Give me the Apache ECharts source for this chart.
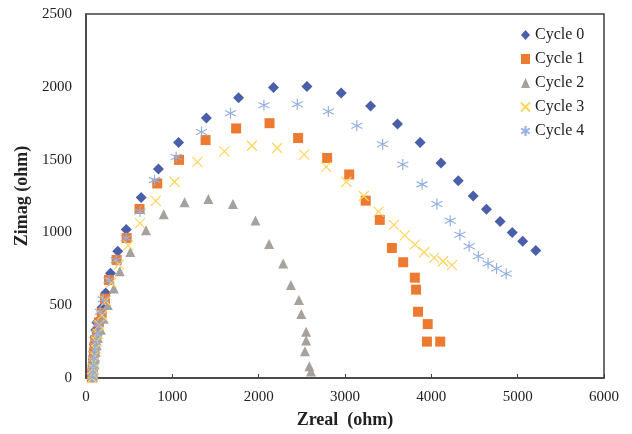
<!DOCTYPE html>
<html>
<head>
<meta charset="utf-8">
<script src="https://cdn.jsdelivr.net/npm/echarts@6/dist/echarts.min.js"></script>
<style>
  html, body { margin: 0; padding: 0; background: #fff; }
  #container { width: 632px; height: 434px; }
</style>
</head>
<body>
<div id="container"></div>
<script>
// Nyquist data: [Zreal, Zimag] in ohm
var cycle0 = [[72,10],[76,45],[80,85],[85,130],[90,180],[96,230],[103,280],[112,330],[126,382],[186,484],[228,584],[284,720],[368,870],[466,1020],[639,1239],[839,1436],[1072,1618],[1394,1786],[1767,1925],[2172,1995],[2559,2002],[2956,1957],[3296,1868],[3608,1745],[3870,1618],[4112,1477],[4312,1355],[4485,1250],[4638,1159],[4797,1075],[4937,1000],[5058,939],[5210,875]];
var cycle1 = [[68,5],[74,40],[80,80],[86,125],[92,170],[99,215],[108,260],[126,302],[149,382],[182,448],[219,545],[266,673],[354,811],[471,961],[620,1161],[825,1336],[1077,1498],[1385,1634],[1739,1714],[2126,1750],[2457,1648],[2793,1511],[3049,1398],[3240,1218],[3403,1086],[3543,893],[3674,795],[3809,689],[3823,607],[3846,455],[3958,370],[3949,250],[4103,250]];
var cycle2 = [[80,5],[85,30],[90,60],[96,95],[104,135],[113,180],[124,225],[138,275],[172,332],[205,407],[252,502],[322,614],[392,734],[513,866],[695,1014],[900,1125],[1142,1207],[1417,1230],[1702,1195],[1963,1082],[2121,920],[2284,786],[2373,639],[2466,536],[2494,439],[2550,318],[2550,257],[2536,184],[2587,80],[2606,45]];
var cycle3 = [[70,0],[76,30],[82,65],[90,105],[98,150],[108,200],[120,250],[135,305],[155,365],[185,430],[230,530],[294,655],[382,780],[490,911],[625,1064],[807,1216],[1026,1348],[1291,1484],[1604,1557],[1921,1595],[2214,1580],[2527,1534],[2783,1450],[3016,1348],[3217,1250],[3389,1143],[3566,1052],[3692,980],[3809,916],[3916,864],[4033,825],[4135,802],[4238,775]];
var cycle4 = [[75,5],[80,40],[86,85],[93,135],[102,190],[112,245],[125,305],[140,370],[165,455],[200,541],[266,670],[350,809],[466,961],[625,1143],[793,1359],[1044,1518],[1338,1689],[1674,1818],[2061,1873],[2448,1880],[2807,1830],[3137,1732],[3436,1605],[3669,1466],[3893,1330],[4065,1195],[4219,1080],[4331,984],[4438,905],[4545,836],[4657,786],[4755,752],[4867,716]];

var seriesNames = ['Cycle 0', 'Cycle 1', 'Cycle 2', 'Cycle 3', 'Cycle 4'];
var xTicks = { min: 0, max: 6000, interval: 1000 };
var yTicks = { min: 0, max: 2500, interval: 500 };

var serif = '"Liberation Serif", "DejaVu Serif", serif';
var crossPath = 'path://M0,0L10,10M10,0L0,10';
var starPath = 'path://M5,0L5,10M0.7,2.5L9.3,7.5M9.3,2.5L0.7,7.5';

function plain(v) { return String(v); }

function filled(name, data, symbol, size, color) {
    return {
        name: name, type: 'scatter', data: data,
        symbol: symbol, symbolSize: size,
        itemStyle: { color: color, opacity: 1 },
        emphasis: { disabled: true }
    };
}
function stroked(name, data, symbol, size, color) {
    return {
        name: name, type: 'scatter', data: data,
        symbol: symbol, symbolSize: size,
        itemStyle: { color: 'rgba(0,0,0,0)', borderColor: color, borderWidth: 1.2, opacity: 1 },
        emphasis: { disabled: true }
    };
}

var myChart = echarts.init(document.getElementById('container'), null, { renderer: 'canvas' });
var option = {
    animation: false,
    backgroundColor: '#fff',
    textStyle: { fontFamily: serif },
    grid: {
        left: 86, right: 28, top: 14, bottom: 53,
        show: true, borderColor: '#404040', borderWidth: 1.5
    },
    legend: {
        orient: 'vertical',
        left: 515, top: 22,
        itemWidth: 9, itemHeight: 10, itemGap: 8,
        textStyle: { fontFamily: serif, fontSize: 16, color: '#222' },
        data: seriesNames
    },
    xAxis: {
        type: 'value',
        min: xTicks.min, max: xTicks.max, interval: xTicks.interval,
        name: 'Zreal  (ohm)', nameLocation: 'middle', nameGap: 33,
        nameTextStyle: { fontFamily: serif, fontSize: 18, fontWeight: 'bold', color: '#222' },
        axisLine: { lineStyle: { color: '#404040', width: 1.5 } },
        axisTick: { show: true, inside: true, length: 4, lineStyle: { color: '#404040' } },
        axisLabel: { fontFamily: serif, fontSize: 15, color: '#222', margin: 12, formatter: plain },
        splitLine: { show: false }
    },
    yAxis: {
        type: 'value',
        min: yTicks.min, max: yTicks.max, interval: yTicks.interval,
        name: 'Zimag (ohm)', nameLocation: 'middle', nameGap: 52,
        nameTextStyle: { fontFamily: serif, fontSize: 18, fontWeight: 'bold', color: '#222' },
        axisLine: { lineStyle: { color: '#404040', width: 1.5 } },
        axisTick: { show: false },
        axisLabel: { fontFamily: serif, fontSize: 15, color: '#222', margin: 14, formatter: plain },
        splitLine: { show: false }
    },
    series: [
        filled(seriesNames[0], cycle0, 'diamond', 11, '#4A5FAA'),
        filled(seriesNames[1], cycle1, 'rect', 10, '#ED7A31'),
        filled(seriesNames[2], cycle2, 'triangle', 10, '#A7A19D'),
        stroked(seriesNames[3], cycle3, crossPath, 10, '#FFD55C'),
        stroked(seriesNames[4], cycle4, starPath, 11, '#93B0E2')
    ]
};

if (option && typeof option === "object") {
    myChart.setOption(option, true);
}
</script>
</body>
</html>
